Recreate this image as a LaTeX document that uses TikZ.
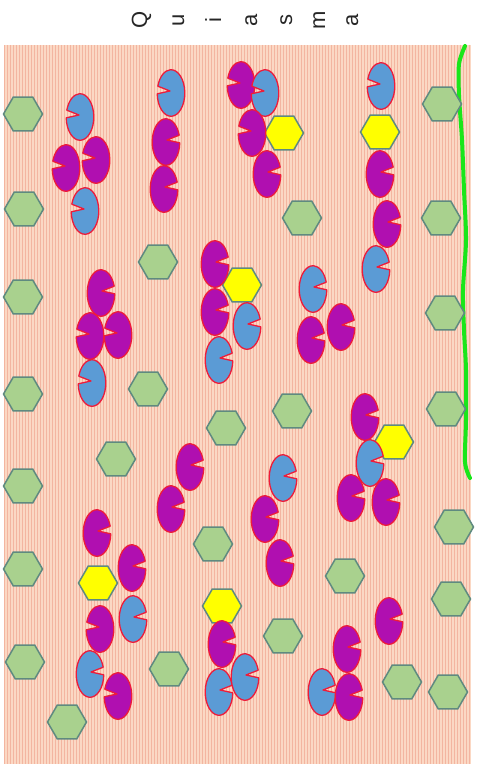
\documentclass[tikz,border=0pt]{standalone}
\usepackage{fontspec}
\setmainfont{Liberation Sans}
\usetikzlibrary{shapes.geometric}
\definecolor{peach}{HTML}{FBD8C4}
\definecolor{stripe}{HTML}{F3B5A0}
\definecolor{pmag}{HTML}{B00FB0}
\definecolor{pblue}{HTML}{5B9BD5}
\definecolor{pred}{HTML}{EE1C3A}
\definecolor{hexfill}{HTML}{A9D18E}
\definecolor{hexline}{HTML}{5F8A80}
\definecolor{hexyel}{HTML}{FFFF00}
\definecolor{membrane}{HTML}{1AE61A}
\tikzset{hexg/.style={regular polygon,regular polygon sides=6,minimum size=39pt,
  inner sep=0pt,draw=hexline,line width=1.5pt,fill=hexfill},
  hexy/.style={hexg,fill=hexyel},
  letter/.style={inner sep=0pt,font=\fontsize{22}{26}\selectfont,text=black!85},
  pacline/.style={draw=pred,line width=1.3pt,line join=round},
  pac/.pic={\filldraw[pacline,fill=#1] (1,-2) -- (2:13.8 and 23.3)
    arc[start angle=2,end angle=343,x radius=13.8,y radius=23.3] -- cycle;}}

\begin{document}
\begin{tikzpicture}[x=1pt,y=-1pt]
\useasboundingbox (0,0) rectangle (479,768);
% striped field
\fill[peach] (4,45) rectangle (471,764);
\foreach \i in {0,...,155}
  \draw[stripe,line width=1pt] ({4.5+3*\i},45) -- ({4.5+3*\i},764);
% title, one letter at a time, each turned a quarter
\foreach \ch/\x [count=\i] in {Q/142,u/179,i/216,a/252,s/287,m/320,a/353}
  \node[letter] (t\i) at (\x,20) {\rotatebox{90}{\strut\ch}};
% membrane
\draw[membrane,line width=4pt,line cap=round] plot[smooth] coordinates {(465,46) (459,64)
  (459,95) (462,140) (464,190) (466,240) (463,290) (464,330) (466,370) (466,420)
  (465,462) (470,478)};
\foreach \x/\y [count=\i] in {23/114,24/209,23/297,23/394,23/486,23/569,25/662,67/722,
  442/104,441/218,445/313,446/409,454/527,451/599,448/692,402/682,
  158/262,302/218,148/389,292/411,226/428,116/459,213/544,345/576,283/636,169/669}
  \node[hexg] (g\i) at (\x,\y) {};
\foreach \x/\y [count=\i] in {284/133,380/132,242/285,394/442,98/583,222/606}
  \node[hexy] (y\i) at (\x,\y) {};
% chromatids: -1 turns the mouth to the left
\foreach \x/\y/\c/\s in {80/117/pblue/-1,96/160/pmag/-1,66/168/pmag/-1,85/211/pblue/-1,
  171/93/pblue/-1,166/142/pmag/1,164/189/pmag/1,
  241/85/pmag/-1,265/93/pblue/-1,252/133/pmag/-1,267/174/pmag/1,
  381/86/pblue/-1,380/174/pmag/1,387/224/pmag/1,376/269/pblue/1,
  215/264/pmag/1,215/312/pmag/1,219/360/pblue/1,247/326/pblue/1,
  101/293/pmag/1,90/336/pmag/-1,118/335/pmag/-1,92/383/pblue/-1,
  313/289/pblue/1,311/340/pmag/1,341/327/pmag/1,
  365/417/pmag/1,370/463/pblue/1,351/498/pmag/1,386/502/pmag/1,
  190/467/pmag/1,171/509/pmag/1,283/478/pblue/1,265/519/pmag/1,280/563/pmag/1,
  389/621/pmag/1,347/649/pmag/1,322/692/pblue/1,349/697/pmag/1,
  97/533/pmag/1,132/568/pmag/1,133/619/pblue/1,100/629/pmag/-1,90/674/pblue/1,
  118/696/pmag/-1,222/644/pmag/1,219/692/pblue/1,245/677/pblue/1}
  \pic[xscale=\s] at (\x,\y) {pac=\c};
\end{tikzpicture}
\end{document}
